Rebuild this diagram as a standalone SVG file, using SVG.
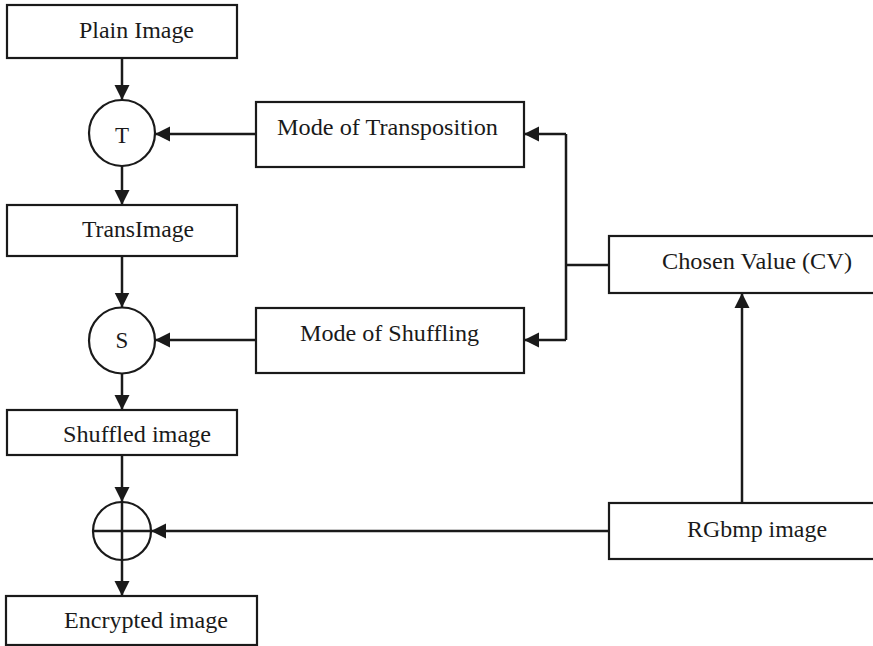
<svg xmlns="http://www.w3.org/2000/svg" width="873" height="646" viewBox="0 0 873 646">
<style>
.box{fill:#fff;stroke:#1a1a1a;stroke-width:2.2}
.circ{fill:#fff;stroke:#1a1a1a;stroke-width:2.2}
.lbl{font-family:"Liberation Serif","Times New Roman",Times,serif;font-size:23px;fill:#1a1a1a}
.con{fill:none;stroke:#1a1a1a;stroke-width:2.5}
</style>
<defs>
<marker id="ah" markerUnits="userSpaceOnUse" markerWidth="16" markerHeight="16" viewBox="0 0 16 16" refX="15" refY="8" orient="auto">
<path d="M0,0.5 L15,8 L0,15.5 Z" fill="#1a1a1a"/>
</marker>
</defs>
<rect width="873" height="646" fill="#fff"/>
<g id="connectors">
<line class="con" x1="122" y1="58" x2="122" y2="100" marker-end="url(#ah)"/>
<line class="con" x1="122" y1="166" x2="122" y2="205" marker-end="url(#ah)"/>
<line class="con" x1="122" y1="256" x2="122" y2="307.5" marker-end="url(#ah)"/>
<line class="con" x1="122" y1="373.5" x2="122" y2="410" marker-end="url(#ah)"/>
<line class="con" x1="122" y1="455" x2="122" y2="502" marker-end="url(#ah)"/>
<line class="con" x1="122" y1="560" x2="122" y2="596" marker-end="url(#ah)"/>
<line class="con" x1="256" y1="134" x2="155" y2="134" marker-end="url(#ah)"/>
<line class="con" x1="256" y1="340" x2="155" y2="340" marker-end="url(#ah)"/>
<path class="con" d="M566,134 V340 M609,265 H566"/>
<line class="con" x1="566" y1="134" x2="524" y2="134" marker-end="url(#ah)"/>
<line class="con" x1="566" y1="340" x2="524" y2="340" marker-end="url(#ah)"/>
<line class="con" x1="742" y1="503" x2="742" y2="293" marker-end="url(#ah)"/>
<line class="con" x1="609" y1="531" x2="151" y2="531" marker-end="url(#ah)"/>
</g>
<g id="plain">
<rect class="box" x="7" y="5" width="230" height="53"/>
<text class="lbl" x="79" y="38" textLength="115" lengthAdjust="spacingAndGlyphs">Plain Image</text>
</g>
<g id="T">
<circle class="circ" cx="122" cy="133" r="33"/>
<text class="lbl" x="122" y="143" text-anchor="middle">T</text>
</g>
<g id="trans">
<rect class="box" x="7" y="205" width="230" height="51"/>
<text class="lbl" x="82" y="237" textLength="112" lengthAdjust="spacingAndGlyphs">TransImage</text>
</g>
<g id="S">
<circle class="circ" cx="122" cy="340.5" r="33"/>
<text class="lbl" x="122" y="348" text-anchor="middle">S</text>
</g>
<g id="shuffled">
<rect class="box" x="7" y="410" width="230" height="45"/>
<text class="lbl" x="63" y="442" textLength="148" lengthAdjust="spacingAndGlyphs">Shuffled image</text>
</g>
<g id="xor">
<circle class="circ" cx="122" cy="531" r="29"/>
<path class="con" d="M93,531 H151 M122,502 V560"/>
</g>
<g id="encrypted">
<rect class="box" x="6" y="596" width="251" height="49"/>
<text class="lbl" x="64" y="628" textLength="164" lengthAdjust="spacingAndGlyphs">Encrypted image</text>
</g>
<g id="modeTrans">
<rect class="box" x="256" y="102" width="268" height="65"/>
<text class="lbl" x="277" y="135" textLength="221" lengthAdjust="spacingAndGlyphs">Mode of Transposition</text>
</g>
<g id="modeShuf">
<rect class="box" x="256" y="308" width="268" height="65"/>
<text class="lbl" x="300" y="341" textLength="179" lengthAdjust="spacingAndGlyphs">Mode of Shuffling</text>
</g>
<g id="chosen">
<rect class="box" x="609" y="236" width="280" height="57"/>
<text class="lbl" x="662" y="269" textLength="190" lengthAdjust="spacingAndGlyphs">Chosen Value (CV)</text>
</g>
<g id="rgbmp">
<rect class="box" x="609" y="503" width="280" height="56"/>
<text class="lbl" x="687" y="537" textLength="140" lengthAdjust="spacingAndGlyphs">RGbmp image</text>
</g>
</svg>
